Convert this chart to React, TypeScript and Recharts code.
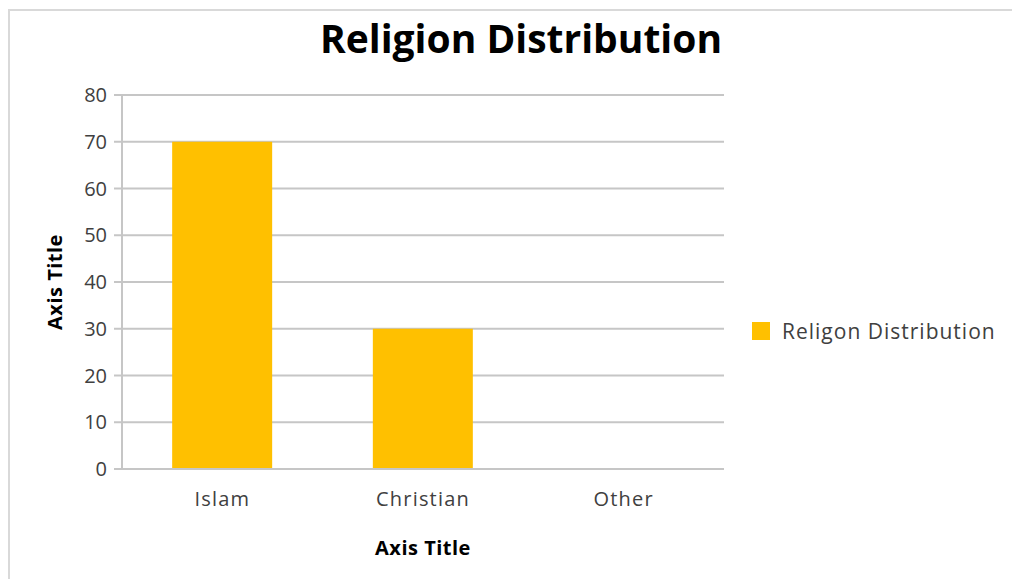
import React from "react";
import { BarChart, Bar, XAxis, YAxis, CartesianGrid } from "recharts";

const categories = ["Islam", "Christian", "Other"];
const religionValues = [70, 30, 0];
const yTicks = [0, 10, 20, 30, 40, 50, 60, 70, 80];

const seriesName = "Religon Distribution";
const chartTitle = "Religion Distribution";

const data = categories.map((name, i) => ({ name, value: religionValues[i] }));

const FONT = "'Open Sans', 'Noto Sans', sans-serif";
const BAR = "#ffc000";
const GRID = "#c6c6c6";

export default function App() {
  return (
    <div style={{ position: "absolute", left: 0, top: 0, width: 1012, height: 579, background: "#fff", overflow: "hidden" }}>
      <div
        style={{
          position: "absolute",
          left: 8,
          top: 9,
          width: 1020,
          height: 600,
          borderLeft: "2px solid #d9d9d9",
          borderTop: "2px solid #d9d9d9",
        }}
      />
      <div
        style={{
          position: "absolute",
          left: 0,
          width: 1042,
          top: 11,
          textAlign: "center",
          fontFamily: FONT,
          fontWeight: 700,
          fontSize: 39,
          lineHeight: "54px",
          color: "#000",
        }}
      >
        {chartTitle}
      </div>
      <div
        style={{
          position: "absolute",
          left: 752,
          top: 316,
          display: "flex",
          alignItems: "center",
          fontFamily: FONT,
          fontSize: 21,
          letterSpacing: 1,
          color: "#404040",
          lineHeight: "30px",
        }}
      >
        <span style={{ width: 18, height: 18, background: BAR, display: "inline-block", marginRight: 12 }} />
        <span>{seriesName}</span>
      </div>
      <BarChart
        width={1012}
        height={579}
        data={data}
        margin={{ top: 95, right: 288, left: 0, bottom: 0 }}
        barCategoryGap="25%"
        style={{ position: "absolute", left: 0, top: 0 }}
      >
        <CartesianGrid vertical={false} stroke={GRID} strokeWidth={2} />
        <XAxis
          dataKey="name"
          height={110}
          axisLine={{ stroke: GRID, strokeWidth: 2 }}
          tickLine={false}
          tick={{ fill: "#404040", fontSize: 20, fontFamily: FONT, style: { letterSpacing: 1.2 } }}
          tickMargin={17}
          label={{ value: "Axis Title", position: "insideBottom", offset: 24, fill: "#000", fontSize: 20, fontWeight: 700, fontFamily: FONT, style: { letterSpacing: 0.5 } }}
        />
        <YAxis
          width={122}
          domain={[0, 80]}
          ticks={yTicks}
          interval={0}
          axisLine={{ stroke: GRID, strokeWidth: 2 }}
          tickLine={{ stroke: GRID, strokeWidth: 2 }}
          tickSize={8}
          tickMargin={7}
          tick={{ fill: "#404040", fontSize: 20, fontFamily: FONT }}
          label={{ value: "Axis Title", angle: -90, position: "insideLeft", offset: 55, fill: "#000", fontSize: 20, fontWeight: 700, fontFamily: FONT, style: { textAnchor: "middle", letterSpacing: 0.5 } }}
        />
        <Bar dataKey="value" name={seriesName} fill={BAR} isAnimationActive={false} />
      </BarChart>
    </div>
  );
}
